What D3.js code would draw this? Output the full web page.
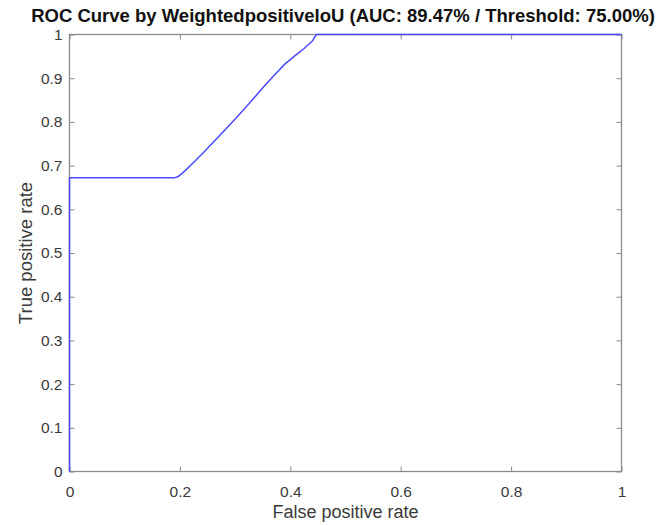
<!DOCTYPE html>
<html><head><meta charset="utf-8">
<script src="https://cdn.jsdelivr.net/npm/d3@7"></script>
<style>body{margin:0;background:#fff;} svg{display:block;}</style>
</head><body>
<svg id="c" width="661" height="525"></svg>
<script>
const fpr = [0, 0, 0.05, 0.1, 0.15, 0.19, 0.197, 0.209, 0.227, 0.245, 0.263, 0.281, 0.299, 0.317, 0.335, 0.353, 0.371, 0.389, 0.407, 0.425, 0.440, 0.447, 0.6, 0.8, 1.0];
const tpr = [0, 0.672, 0.672, 0.672, 0.672, 0.672, 0.675, 0.688, 0.710, 0.733, 0.757, 0.781, 0.805, 0.830, 0.856, 0.882, 0.907, 0.931, 0.950, 0.968, 0.985, 1.0, 1.0, 1.0, 1.0];
const xTicks = [0, 0.2, 0.4, 0.6, 0.8, 1];
const yTicks = [0, 0.1, 0.2, 0.3, 0.4, 0.5, 0.6, 0.7, 0.8, 0.9, 1];
const titleText = "ROC Curve by WeightedpositiveIoU (AUC: 89.47% / Threshold: 75.00%)";
const xLabel = "False positive rate";
const yLabel = "True positive rate";

const svg = d3.select("#c");
const L = 69.5, R = 621.5, T = 34.5, B = 471.5;
const x = d3.scaleLinear().domain([0,1]).range([L,R]);
const y = d3.scaleLinear().domain([0,1]).range([B,T]);
const axisColor = "#8a8a8a", textColor = "#3a3a3a";
const font = "Liberation Sans, Arial, Helvetica, sans-serif";

// box
svg.append("rect").attr("x",L).attr("y",T).attr("width",R-L).attr("height",B-T)
  .attr("fill","none").attr("stroke",axisColor).attr("stroke-width",1.3);

function styleAxis(g){
  g.select(".domain").remove();
  g.selectAll(".tick line").attr("stroke",axisColor).attr("stroke-width",1);
  g.selectAll(".tick text").attr("fill",textColor).attr("font-size",15.5).attr("font-family",font);
}
const tl = 5;
svg.append("g").attr("transform",`translate(0,${B})`)
  .call(d3.axisBottom(x).tickValues(xTicks).tickFormat(d3.format("~g")).tickSizeInner(-tl).tickSizeOuter(0).tickPadding(14))
  .call(styleAxis);
svg.append("g").attr("transform",`translate(0,${T})`)
  .call(d3.axisTop(x).tickValues(xTicks).tickFormat("").tickSizeInner(-tl).tickSizeOuter(0))
  .call(styleAxis);
svg.append("g").attr("transform",`translate(${L},0)`)
  .call(d3.axisLeft(y).tickValues(yTicks).tickFormat(d3.format("~g")).tickSizeInner(-tl).tickSizeOuter(0).tickPadding(7))
  .call(styleAxis);
svg.append("g").attr("transform",`translate(${R},0)`)
  .call(d3.axisRight(y).tickValues(yTicks).tickFormat("").tickSizeInner(-tl).tickSizeOuter(0))
  .call(styleAxis);

// curve
const pts = fpr.map((d,i)=>[d,tpr[i]]);
svg.append("path").datum(pts)
  .attr("d", d3.line().x(d=>x(d[0])).y(d=>y(d[1])))
  .attr("fill","none").attr("stroke","#4a4aff").attr("stroke-width",1.5);

// title
svg.append("text").attr("x",343).attr("y",22).attr("text-anchor","middle")
  .attr("font-family",font).attr("font-weight","bold").attr("font-size",18.5).attr("fill","#111")
  .text(titleText);
svg.append("text").attr("x",(L+R)/2).attr("y",518).attr("text-anchor","middle")
  .attr("font-family",font).attr("font-size",18).attr("fill",textColor).text(xLabel);
svg.append("text").attr("transform",`translate(32,${(T+B)/2}) rotate(-90)`).attr("text-anchor","middle")
  .attr("font-family",font).attr("font-size",18.5).attr("fill",textColor).text(yLabel);
</script>
</body></html>
